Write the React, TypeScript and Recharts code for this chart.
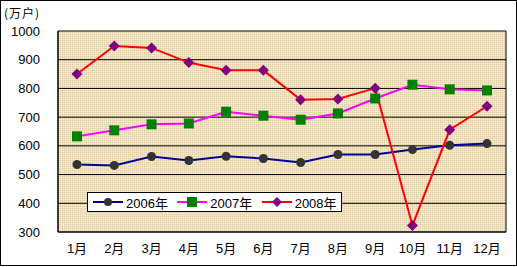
import React from 'react';
import { LineChart, Line, XAxis, YAxis, CartesianGrid, Legend } from 'recharts';

const months = ['1月', '2月', '3月', '4月', '5月', '6月', '7月', '8月', '9月', '10月', '11月', '12月'];
const s2006 = [535, 532, 563, 549, 564, 556, 542, 570, 570, 587, 602, 608];
const s2007 = [633, 654, 675, 678, 719, 705, 691, 713, 765, 813, 797, 793];
const s2008 = [850, 948, 941, 890, 863, 863, 761, 763, 801, 323, 656, 738];
const yTicks = [300, 400, 500, 600, 700, 800, 900, 1000];
const boundaryTicks = [0, 1, 2, 3, 4, 5, 6, 7, 8, 9, 10, 11, 12];
const seriesNames = ['2006年', '2007年', '2008年'];
const unitLabel = '(万户)';

const data = months.map((m, i) => ({ month: m, a: s2006[i], b: s2007[i], c: s2008[i] }));

const FONT = '"Liberation Sans", Arial, "Noto Sans CJK SC", sans-serif';

const CircleDot = (p: any) => {
  if (p.cx == null || p.cy == null) return null;
  return <circle key={p.key} cx={p.cx} cy={p.cy} r={4.5} fill="#333333" />;
};
const SquareDot = (p: any) => {
  if (p.cx == null || p.cy == null) return null;
  return <rect key={p.key} x={p.cx - 5} y={p.cy - 5} width={10} height={10} fill="#008000" />;
};
const DiamondDot = (p: any) => {
  if (p.cx == null || p.cy == null) return null;
  const s = 5.5;
  return (
    <polygon
      key={p.key}
      points={`${p.cx},${p.cy - s} ${p.cx + s},${p.cy} ${p.cx},${p.cy + s} ${p.cx - s},${p.cy}`}
      fill="#800080"
    />
  );
};

const legendItems = [
  { name: seriesNames[0], color: '#000099', marker: 'circle' },
  { name: seriesNames[1], color: '#FF00FF', marker: 'square' },
  { name: seriesNames[2], color: '#FF0000', marker: 'diamond' },
];

const LegendContent = () => (
  <div
    style={{
      width: 255,
      height: 20,
      boxSizing: 'border-box',
      border: '1px solid #000',
      background: '#fff',
      display: 'flex',
      alignItems: 'center',
      fontFamily: FONT,
      fontSize: 13,
      color: '#000',
    }}
  >
    {legendItems.map((it, i) => (
      <div key={i} style={{ display: 'flex', alignItems: 'center', width: 86, paddingLeft: 4 }}>
        <svg width={32} height={12} style={{ display: 'block' }}>
          <line x1={1} y1={6} x2={31} y2={6} stroke={it.color} strokeWidth={2} />
          {it.marker === 'circle' && <circle cx={16} cy={6} r={4} fill="#333333" />}
          {it.marker === 'square' && <rect x={11} y={1} width={10} height={10} fill="#008000" />}
          {it.marker === 'diamond' && <polygon points="16,1 21,6 16,11 11,6" fill="#800080" />}
        </svg>
        <span style={{ marginLeft: 2 }}>{it.name}</span>
      </div>
    ))}
  </div>
);

export default function App() {
  return (
    <div style={{ position: 'absolute', left: 0, top: 0, width: 517, height: 267, background: '#fff' }}>
      <LineChart
        width={517}
        height={267}
        data={data}
        margin={{ top: 31, right: 11, bottom: 5, left: 0 }}
      >
        <defs>
          <pattern id="paper" width={2} height={2} patternUnits="userSpaceOnUse">
            <rect x={0} y={0} width={2} height={2} fill="#EFE1C2" />
            <rect x={0} y={0} width={1} height={1} fill="#E0CFA6" />
            <rect x={1} y={1} width={1} height={1} fill="#F5EAD2" />
          </pattern>
        </defs>
        <CartesianGrid
          fill="url(#paper)"
          stroke="#000"
          strokeOpacity={1}
          horizontal={true}
          vertical={true}
          verticalPoints={[58, 506]}
        />
        <XAxis
          xAxisId="bounds"
          type="number"
          dataKey="idx"
          domain={[0, 12]}
          ticks={boundaryTicks}
          mirror
          height={0}
          tickSize={4}
          tick={false}
          tickLine={{ stroke: '#000' }}
          axisLine={false}
          allowDataOverflow
        />
        <XAxis
          dataKey="month"
          axisLine={{ stroke: '#000' }}
          tickLine={false}
          tickSize={0}
          tickMargin={12}
          padding={{ left: 19, right: 19 }}
          tick={{ fill: '#000', fontSize: 13, fontFamily: FONT }}
          interval={0}
          height={30}
        />
        <YAxis
          width={58}
          domain={[300, 1000]}
          ticks={yTicks}
          axisLine={{ stroke: '#000' }}
          tickLine={false}
          tickSize={0}
          tickMargin={18}
          tick={{ fill: '#000', fontSize: 13, fontFamily: FONT }}
          allowDataOverflow
        />
        <Legend
          layout="horizontal"
          verticalAlign="middle"
          align="center"
          wrapperStyle={{ position: 'absolute', left: 87, top: 192, width: 255, height: 20 }}
          content={<LegendContent />}
        />
        <Line type="linear" dataKey="a" name={seriesNames[0]} stroke="#000099" strokeWidth={2} dot={CircleDot} activeDot={false} isAnimationActive={false} />
        <Line type="linear" dataKey="b" name={seriesNames[1]} stroke="#FF00FF" strokeWidth={2} dot={SquareDot} activeDot={false} isAnimationActive={false} />
        <Line type="linear" dataKey="c" name={seriesNames[2]} stroke="#FF0000" strokeWidth={2} dot={DiamondDot} activeDot={false} isAnimationActive={false} />
      </LineChart>
      <div
        style={{
          position: 'absolute',
          left: 4,
          top: 4,
          fontFamily: '"Noto Sans CJK SC", sans-serif',
          fontSize: 12,
          letterSpacing: 1,
          color: '#000',
        }}
      >
        {unitLabel}
      </div>
      <div
        style={{
          position: 'absolute',
          left: 0,
          top: 0,
          width: 517,
          height: 266,
          boxSizing: 'border-box',
          border: '1px solid #000',
          pointerEvents: 'none',
        }}
      />
    </div>
  );
}
